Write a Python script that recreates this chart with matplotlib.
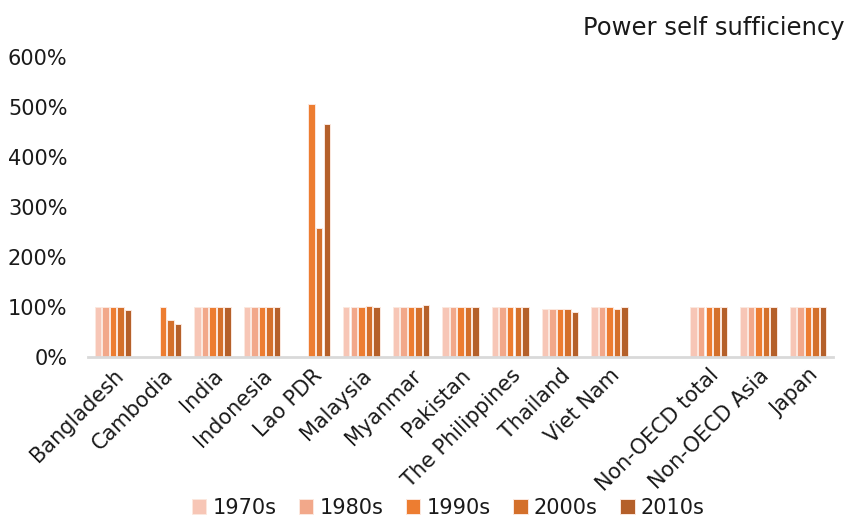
import numpy as np
import matplotlib
matplotlib.use("Agg")
import matplotlib.pyplot as plt
from matplotlib.ticker import FuncFormatter

plt.rcParams['font.family'] = ['DejaVu Sans']

categories = ["Bangladesh", "Cambodia", "India", "Indonesia", "Lao PDR", "Malaysia",
              "Myanmar", "Pakistan", "The Philippines", "Thailand", "Viet Nam", "",
              "Non-OECD total", "Non-OECD Asia", "Japan"]
decades = ["1970s", "1980s", "1990s", "2000s", "2010s"]
nan = np.nan
s1970 = [100, nan, 100, 100, nan, 100, 100, 100, 100, 96, 100, nan, 100, 100, 100]
s1980 = [100, nan, 100, 100, nan, 100, 100, 100, 100, 96, 100, nan, 100, 100, 100]
s1990 = [100, 100, 100, 100, 507, 100, 100, 100, 100, 96, 100, nan, 100, 100, 100]
s2000 = [100, 74, 100, 100, 258, 102, 100, 100, 100, 96, 96, nan, 100, 100, 100]
s2010 = [94, 66, 100, 100, 467, 100, 103, 100, 100, 89, 100, nan, 100, 100, 100]
series = [s1970, s1980, s1990, s2000, s2010]
colors = ["#F7C6B6", "#F2A88A", "#ED7D31", "#D4702B", "#B5602A"]

fig = plt.figure(figsize=(8.49, 5.17), dpi=100)
ax = fig.add_axes([0.104, 0.3095, 0.877, 0.5802])

x = np.arange(len(categories))
step = 0.152
w = 0.13
for i, (vals, c, lab) in enumerate(zip(series, colors, decades)):
    ax.bar(x + (i - 2) * step, vals, width=w, color=c, edgecolor="#FCE8DF",
           linewidth=0.7, label=lab, zorder=2)

ax.set_xlim(-0.5, len(categories) - 0.5)
ax.set_ylim(0, 600)
ax.set_yticks(np.arange(0, 601, 100))
ax.yaxis.set_major_formatter(FuncFormatter(lambda v, p: f"{int(v)}%"))
ax.set_xticks(x)
ax.set_xticklabels(categories, rotation=45, ha="right", rotation_mode="anchor")
ax.tick_params(axis="both", length=0, labelsize=15, colors="#1a1a1a")
ax.tick_params(axis="x", pad=6)
ax.tick_params(axis="y", pad=15)

for s in ["top", "right", "left"]:
    ax.spines[s].set_visible(False)
ax.spines["bottom"].set_color("#D9D9D9")
ax.spines["bottom"].set_linewidth(2)

fig.text(0.995, 0.945, "Power self sufficiency", ha="right", va="center",
         fontsize=17.5, color="#1a1a1a")

handles, labels = ax.get_legend_handles_labels()
fig.legend(handles, labels, loc="center", bbox_to_anchor=(0.528, 0.018), ncol=5,
           frameon=False, fontsize=15, handlelength=0.7, handleheight=0.7,
           handletextpad=0.3, columnspacing=1.07, labelcolor="#1a1a1a")

fig.savefig("out.png", dpi=100)
